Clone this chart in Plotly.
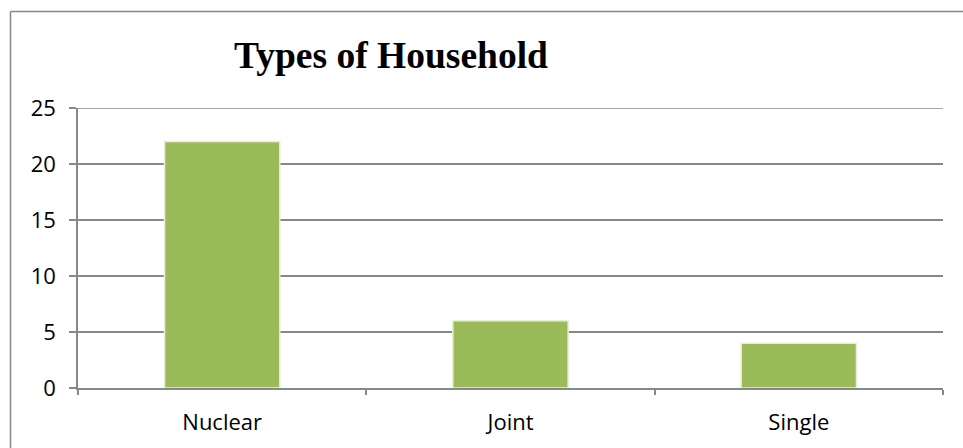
import plotly.graph_objects as go

categories = ["Nuclear", "Joint", "Single"]
values = [22, 6, 4]
y_ticks = [0, 5, 10, 15, 20, 25]
title_text = "Types of Household"

W, H = 963, 448
L, R, T, B = 78, 20, 108, 60
pw, ph = W - L - R, H - T - B

def px_to_paper_x(px):
    return (px - L) / pw

def px_to_paper_y(py):
    return (H - B - py) / ph

grid_col = "#888888"

fig = go.Figure()
fig.add_trace(go.Bar(
    x=categories, y=values,
    marker=dict(color="#9BBB59", line=dict(color="#e9efdd", width=1.5)),
    width=0.4,
))

fig.update_layout(
    width=W, height=H,
    margin=dict(l=L, r=R, t=T, b=B),
    paper_bgcolor="white", plot_bgcolor="white",
    showlegend=False,
    title=dict(text="<b>" + title_text + "</b>",
               font=dict(family="Liberation Serif", size=37.5, color="black"),
               x=391 / W, xanchor="center", xref="container",
               y=1 - 55 / H, yanchor="middle", yref="container"),
    font=dict(family="Open Sans", size=22, color="black"),
    bargap=0.6,
    shapes=[
        dict(type="line", xref="paper", yref="paper",
             x0=px_to_paper_x(10.5), x1=px_to_paper_x(W),
             y0=px_to_paper_y(11.5), y1=px_to_paper_y(11.5),
             line=dict(color=grid_col, width=1.5), layer="below"),
        dict(type="line", xref="paper", yref="paper",
             x0=px_to_paper_x(10.5), x1=px_to_paper_x(10.5),
             y0=px_to_paper_y(11.5), y1=px_to_paper_y(H),
             line=dict(color=grid_col, width=1.5), layer="below"),
        dict(type="line", xref="paper", yref="y",
             x0=0, x1=1, y0=y_ticks[-1], y1=y_ticks[-1],
             line=dict(color=grid_col, width=1.5), layer="below"),
    ],
)

fig.update_xaxes(
    type="category", showline=True, linecolor=grid_col, linewidth=1.5,
    ticks="outside", tickson="boundaries", ticklen=5, tickcolor=grid_col, tickwidth=1.5,
    tickfont=dict(family="Open Sans", size=22, color="black"),
    showgrid=False, ticklabelstandoff=14,
)
fig.update_yaxes(
    range=[0, 25], tickvals=y_ticks, showline=True, linecolor=grid_col, linewidth=1.5,
    ticks="outside", ticklen=7, tickcolor=grid_col, tickwidth=1.5,
    showgrid=True, gridcolor=grid_col, gridwidth=1.5, zeroline=False,
    tickfont=dict(family="Open Sans", size=22, color="black"),
    ticklabelstandoff=9,
)

fig.write_html("out.html")
